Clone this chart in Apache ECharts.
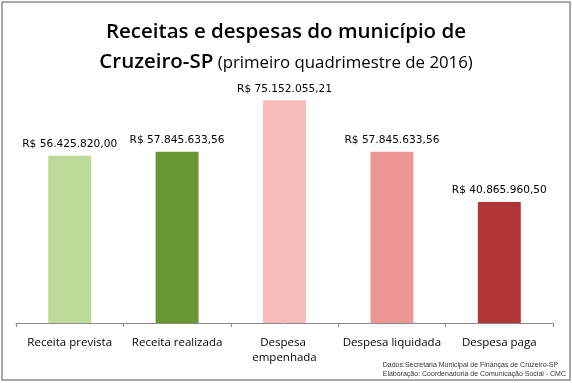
<!DOCTYPE html>
<html>
<head>
<meta charset="utf-8">
<script src="https://cdn.jsdelivr.net/npm/echarts@6/dist/echarts.min.js"></script>
<style>
  html, body { margin: 0; padding: 0; background: #ffffff; }
  #chart { width: 572px; height: 383px; }
</style>
</head>
<body>
<div id="chart"></div>
<script>
// ---- data ----
const categories = ['Receita prevista', 'Receita realizada', 'Despesa empenhada', 'Despesa liquidada', 'Despesa paga'];
const values = [56425820.00, 57845633.56, 75152055.21, 57845633.56, 40865960.50];
const barColors = ['#BEDA9A', '#689632', '#F6BABA', '#EE9696', '#B03636'];
const titleLine1 = 'Receitas e despesas do município de';
const titleLine2a = 'Cruzeiro-SP';
const titleLine2b = '(primeiro quadrimestre de 2016)';
const sourceLines = ['Dados:Secretaria Municipal de Finanças de Cruzeiro-SP', 'Elaboração: Coordenadoria de Comunicação Social - CMC'];

function brl(v) {
  const fixed = v.toFixed(2);
  const parts = fixed.split('.');
  const intPart = parts[0].replace(/\B(?=(\d{3})+(?!\d))/g, '.');
  return 'R$ ' + intPart + ',' + parts[1];
}

const chart = echarts.init(document.getElementById('chart'), null, { renderer: 'canvas' });
chart.setOption({
  backgroundColor: '#ffffff',
  animation: false,
  title: {
    left: 'center',
    top: 12,
    text: '{a|' + titleLine1 + '}\n{a|' + titleLine2a + '}{b| ' + titleLine2b + '}',
    textStyle: {
      rich: {
        a: { fontFamily: 'Open Sans', fontWeight: 600, fontSize: 20.5, color: '#000', lineHeight: 30, verticalAlign: 'middle' },
        b: { fontFamily: 'Open Sans', fontWeight: 400, fontSize: 16.8, color: '#000', lineHeight: 30, verticalAlign: 'middle', padding: [3, 0, 0, 0] }
      }
    }
  },
  grid: { left: 16, right: 19, top: 86, bottom: 60 },
  xAxis: {
    type: 'category',
    data: categories,
    axisLine: { show: true, lineStyle: { color: '#8a8a8a', width: 1 } },
    axisTick: { show: true, length: 4, lineStyle: { color: '#8a8a8a' } },
    axisLabel: {
      margin: 12,
      color: '#000',
      fontFamily: 'Open Sans',
      fontSize: 11.5,
      lineHeight: 15,
      width: 104,
      overflow: 'break',
      interval: 0
    }
  },
  yAxis: {
    type: 'value',
    min: 0,
    max: 80000000,
    show: false,
    splitLine: { show: false }
  },
  series: [{
    type: 'bar',
    data: values.map((v, i) => ({ value: v, itemStyle: { color: barColors[i] } })),
    barWidth: '40%',
    label: {
      show: true,
      position: 'top',
      distance: 6,
      color: '#000',
      fontFamily: 'DejaVu Sans',
      fontSize: 10.6,
      formatter: p => brl(p.value)
    }
  }],
  graphic: [
    {
      type: 'rect',
      shape: { x: 2, y: 2, width: 568, height: 378 },
      style: { fill: 'none', stroke: '#8c8c8c', lineWidth: 1.5 },
      silent: true
    },
    {
      type: 'text',
      right: 6,
      top: 361,
      style: {
        text: sourceLines.join('\n'),
        align: 'right',
        fill: '#333',
        font: '7px "Liberation Sans"',
        lineHeight: 9
      }
    }
  ]
});
</script>
</body>
</html>
